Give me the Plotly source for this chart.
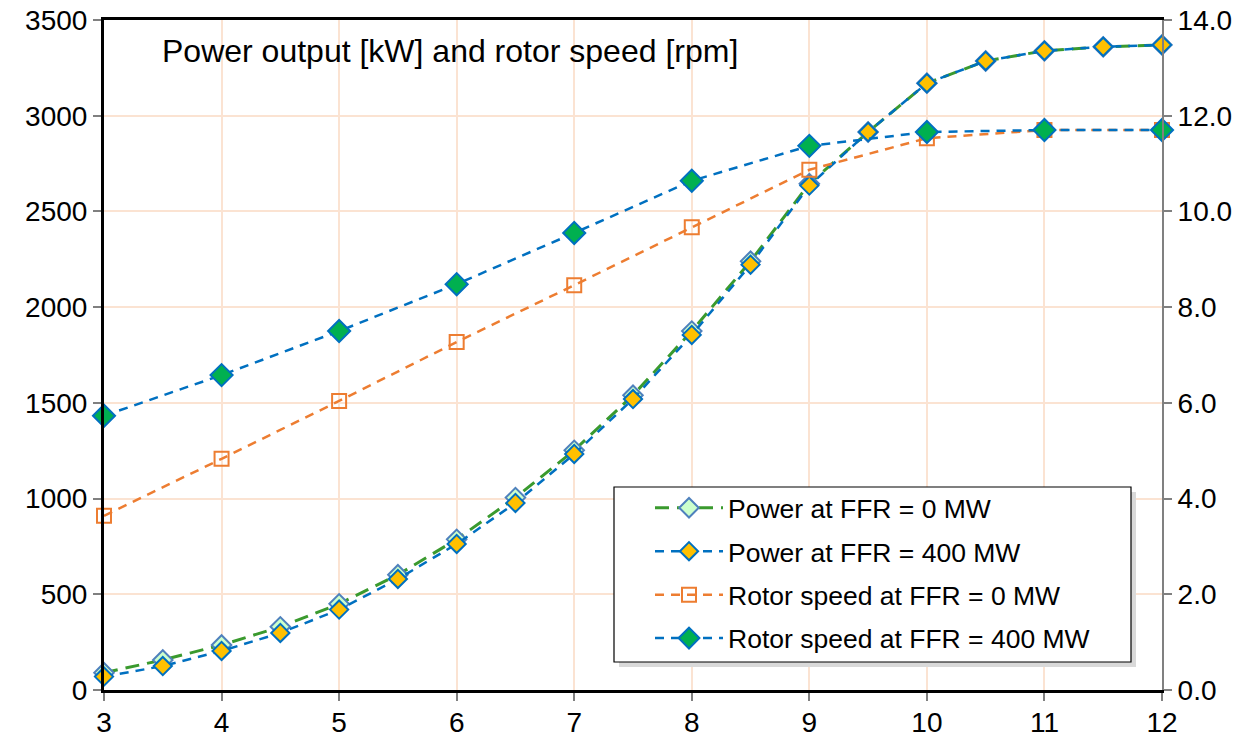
import plotly.graph_objects as go

# Data
wind_half = [3, 3.5, 4, 4.5, 5, 5.5, 6, 6.5, 7, 7.5, 8, 8.5, 9, 9.5, 10, 10.5, 11, 11.5, 12]
power_ffr0 = [90, 157, 235, 330, 450, 602, 787, 1005, 1252, 1540, 1875, 2240, 2645, 2915, 3170, 3286, 3339, 3360, 3370]
power_ffr400 = [70, 125, 204, 298, 420, 580, 763, 977, 1233, 1520, 1855, 2222, 2635, 2915, 3170, 3286, 3339, 3360, 3370]

wind_int = [3, 4, 5, 6, 7, 8, 9, 10, 11, 12]
rotor_ffr0 = [3.64, 4.83, 6.04, 7.27, 8.46, 9.67, 10.87, 11.53, 11.70, 11.70]
rotor_ffr400 = [5.73, 6.58, 7.50, 8.48, 9.55, 10.64, 11.37, 11.66, 11.70, 11.70]

names = ["Power at FFR = 0 MW", "Power at FFR = 400 MW",
         "Rotor speed at FFR = 0 MW", "Rotor speed at FFR = 400 MW"]
title_text = "Power output [kW] and rotor speed [rpm]"

FONT = "Liberation Sans, Arial, sans-serif"
GRID = "#FBE3D2"

fig = go.Figure()
fig.add_trace(go.Scatter(
    x=wind_half, y=power_ffr0, name=names[0], legendgroup="a", mode="lines+markers",
    line=dict(color="#3A9A2E", width=3, dash="14px,8px"),
    marker=dict(symbol="diamond", size=15, color="#CCFFCC", line=dict(color="#4F81BD", width=2)),
    cliponaxis=False))
fig.add_trace(go.Scatter(
    x=wind_half, y=power_ffr400, name=names[1], legendgroup="b", mode="lines+markers",
    line=dict(color="#0070C0", width=2.5, dash="9px,7px"),
    marker=dict(symbol="diamond", size=14, color="#FFC000", line=dict(color="#0070C0", width=2)),
    cliponaxis=False))
fig.add_trace(go.Scatter(
    x=wind_int, y=rotor_ffr0, name=names[2], legendgroup="c", mode="lines+markers", yaxis="y2",
    line=dict(color="#ED7D31", width=2.5, dash="9px,7px"),
    marker=dict(symbol="square-open", size=14, color="#ED7D31", line=dict(color="#ED7D31", width=2)),
    cliponaxis=False))
fig.add_trace(go.Scatter(
    x=wind_int, y=rotor_ffr400, name=names[3], legendgroup="d", mode="lines+markers", yaxis="y2",
    line=dict(color="#0070C0", width=2.5, dash="9px,7px"),
    marker=dict(symbol="diamond", size=17, color="#00B050", line=dict(color="#0070C0", width=2)),
    cliponaxis=False))

# plot area in page pixels
PL, PR, PT, PB = 104, 1162, 20, 690
W, H = 1248, 738

def px_x(p):
    return (p - PL) / (PR - PL)

def px_y(p):
    return (PB - p) / (PB - PT)

fig.update_layout(
    width=W, height=H,
    margin=dict(l=PL, r=W - PR, t=PT, b=H - PB, autoexpand=False),
    paper_bgcolor="white", plot_bgcolor="white",
    font=dict(family=FONT, size=28, color="black"),
    showlegend=True,
    legend=dict(
        x=px_x(650), y=px_y(484), xanchor="left", yanchor="top",
        bgcolor="rgba(0,0,0,0)", borderwidth=0,
        font=dict(family=FONT, size=26.5, color="black"),
        traceorder="grouped", tracegroupgap=6, itemwidth=68,
    ),
    xaxis=dict(
        range=[3, 12], dtick=1, tick0=3, automargin=False,
        showgrid=True, gridcolor=GRID, gridwidth=1.5,
        showline=True, linecolor="black", linewidth=3, mirror=True,
        ticks="outside", ticklen=8, tickcolor="#808080", tickwidth=1.5,
        zeroline=False, tickfont=dict(size=28), ticklabelstandoff=-3,
    ),
    yaxis=dict(
        range=[0, 3500], dtick=500, automargin=False,
        showgrid=True, gridcolor=GRID, gridwidth=1.5,
        showline=True, linecolor="black", linewidth=3,
        ticks="outside", ticklen=8, tickcolor="#808080", tickwidth=1.5,
        zeroline=False, tickfont=dict(size=28),
    ),
    yaxis2=dict(
        range=[0, 14], dtick=2, tickformat=".1f", overlaying="y", side="right",
        automargin=False,
        showgrid=False, showline=True, linecolor="#808080", linewidth=2,
        ticks="outside", ticklen=8, tickcolor="#808080", tickwidth=1.5,
        zeroline=False, tickfont=dict(size=28),
    ),
    annotations=[dict(
        text=title_text, xref="paper", yref="paper",
        x=px_x(160), y=px_y(51), xanchor="left", yanchor="middle",
        showarrow=False, font=dict(family=FONT, size=32, color="black"),
    )],
    shapes=[
        dict(type="rect", xref="paper", yref="paper", layer="above",
             x0=px_x(619), x1=px_x(1136), y0=px_y(667), y1=px_y(492),
             fillcolor="#D9D9D9", line=dict(width=0)),
        dict(type="rect", xref="paper", yref="paper", layer="above",
             x0=px_x(614), x1=px_x(1131), y0=px_y(662), y1=px_y(487),
             fillcolor="white", line=dict(color="black", width=1.2)),
    ],
)

fig.write_html("out.html", config={"displayModeBar": False},
               post_script="document.body.style.margin='0';")
